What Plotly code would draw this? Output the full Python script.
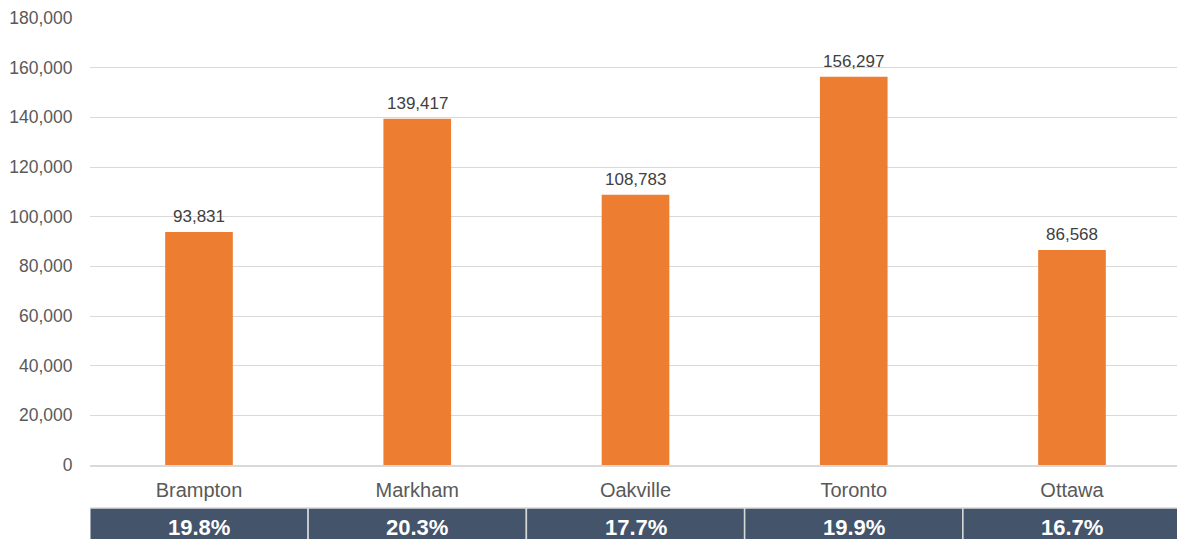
import plotly.graph_objects as go

# Data
cities = ["Brampton", "Markham", "Oakville", "Toronto", "Ottawa"]
values = [93831, 139417, 108783, 156297, 86568]
shares = ["19.8%", "20.3%", "17.7%", "19.9%", "16.7%"]
y_ticks = [0, 20000, 40000, 60000, 80000, 100000, 120000, 140000, 160000, 180000]

W, H = 1177, 539
m_l, m_r, m_t, m_b = 90, 0, 18, 74
plot_h = H - m_t - m_b
FONT = "Liberation Sans, Arial"

fig = go.Figure()
fig.add_trace(go.Bar(
    x=list(range(len(cities))), y=values,
    marker=dict(color="#ED7D31", line=dict(width=0)),
    width=0.31,
    hoverinfo="skip",
))

# Value labels above each bar
for i, v in enumerate(values):
    fig.add_annotation(x=i, y=v, xref="x", yref="y", text=f"{v:,}",
                       showarrow=False, yanchor="bottom", yshift=4,
                       font=dict(family=FONT, size=17, color="#404040"))

# Table row with share values under each category
base_px = H - m_b
cell_top = -(508 - base_px) / plot_h
cell_bot = -(H + 4 - base_px) / plot_h
text_y = -(527 - base_px) / plot_h
for i, s in enumerate(shares):
    fig.add_shape(type="rect", xref="x", yref="paper",
                  x0=i - 0.5, x1=i + 0.5, y0=cell_bot, y1=cell_top,
                  fillcolor="#44546A", line=dict(color="#D9D9D9", width=1.5),
                  layer="above")
    fig.add_annotation(x=i, xref="x", yref="paper", y=text_y,
                       text=f"<b>{s}</b>", showarrow=False,
                       font=dict(family=FONT, size=22, color="white"),
                       yanchor="middle")

fig.update_layout(
    width=W, height=H,
    margin=dict(l=m_l, r=m_r, t=m_t, b=m_b),
    plot_bgcolor="white", paper_bgcolor="white",
    showlegend=False,
    xaxis=dict(
        tickvals=list(range(len(cities))), ticktext=cities,
        showgrid=False, showline=True, linecolor="#D9D9D9", linewidth=1.5,
        ticks="outside", ticklen=6, tickcolor="rgba(0,0,0,0)",
        tickfont=dict(family=FONT, size=20, color="#595959"),
        range=[-0.4994, 4.4811], fixedrange=True,
    ),
    yaxis=dict(
        range=[0, 180000], tickvals=y_ticks,
        ticktext=[f"{v:,}" for v in y_ticks],
        showgrid=True, gridcolor="#D9D9D9", gridwidth=1,
        zeroline=False, showline=False,
        ticks="outside", ticklen=13, tickcolor="rgba(0,0,0,0)",
        tickfont=dict(family=FONT, size=17.5, color="#595959"),
        fixedrange=True,
    ),
)

fig.write_html("out.html")
